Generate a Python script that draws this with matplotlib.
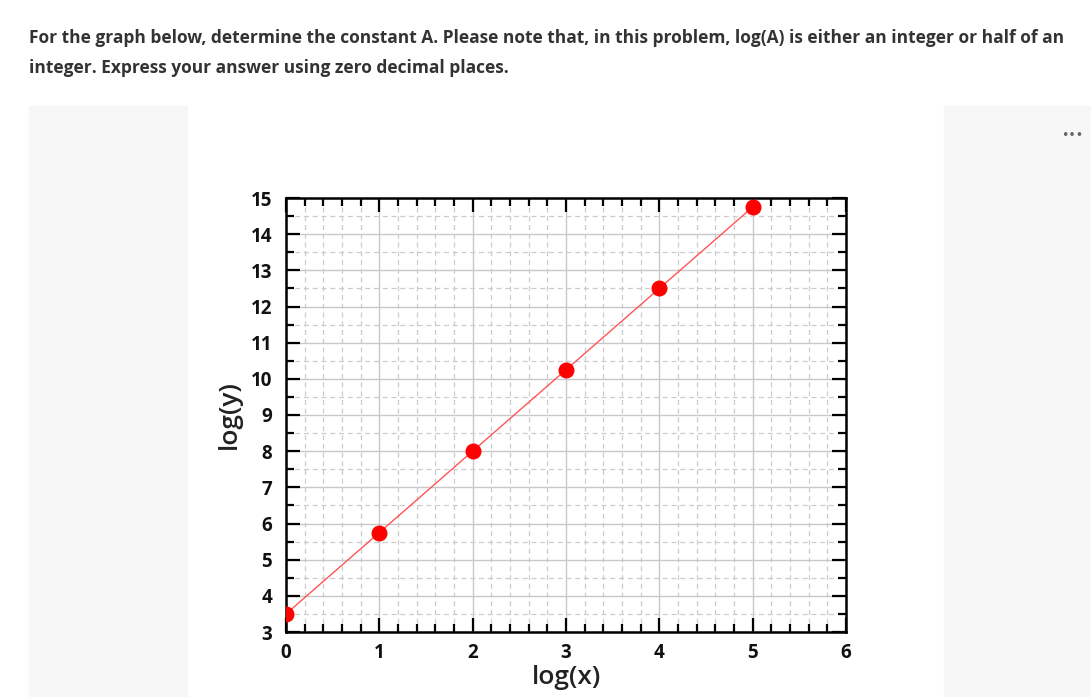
import numpy as np
import matplotlib
matplotlib.use("Agg")
import matplotlib.pyplot as plt
from matplotlib.patches import Rectangle
from matplotlib.ticker import MultipleLocator

# data
log_x = [0, 1, 2, 3, 4, 5]
log_y = [3.5, 5.75, 8.0, 10.25, 12.5, 14.75]

question = ["For the graph below, determine the constant A. Please note that, in this problem, log(A) is either an integer or half of an",
            "integer. Express your answer using zero decimal places."]

W, H = 1091, 697
fig = plt.figure(figsize=(W / 100, H / 100), dpi=100)

# page background: question text + grey side panels
for i, line in enumerate(question):
    fig.text(29 / W, 1 - (38 + 30 * i) / H, line, fontsize=12.5, fontweight="bold",
             family="Open Sans", color="#333333", va="center", ha="left")
fig.add_artist(Rectangle((29 / W, 0), (187 - 29) / W, 1 - 106 / H,
                         transform=fig.transFigure, color="#f7f7f7", zorder=0))
fig.add_artist(Rectangle((944 / W, 0), (W - 944) / W, 1 - 106 / H,
                         transform=fig.transFigure, color="#f7f7f7", zorder=0))
fig.text(1072 / W, 1 - 135 / H, "•••", fontsize=9, color="#666666", ha="center", va="center")

# the chart
ax = fig.add_axes([286 / W, 1 - 632 / H, (846 - 286) / W, (632 - 198) / H])
ax.plot(log_x, log_y, color="#ff5555", lw=1.0, zorder=2)
ax.plot(log_x, log_y, "o", color="red", ms=10.5, zorder=3)

ax.set_xlim(0, 6)
ax.set_ylim(3, 15)
ax.xaxis.set_major_locator(MultipleLocator(1))
ax.xaxis.set_minor_locator(MultipleLocator(0.2))
ax.yaxis.set_major_locator(MultipleLocator(1))
ax.yaxis.set_minor_locator(MultipleLocator(0.5))

ax.set_axisbelow(True)
ax.grid(which="major", color="#c8c8c8", lw=1.0, ls="-")
ax.grid(which="minor", color="#cccccc", lw=0.9, ls=(0, (4, 3)))

ax.tick_params(which="both", direction="in", top=True, right=True, width=1.6,
               color="black", labelsize=13.5)
ax.tick_params(axis="x", which="both", pad=8)
ax.tick_params(axis="y", which="both", pad=10)
ax.tick_params(which="major", length=10)
ax.tick_params(which="minor", length=6)
for lab in ax.get_xticklabels() + ax.get_yticklabels():
    lab.set_fontweight("bold")
    lab.set_family("Open Sans")
    lab.set_color("#111111")
for sp in ax.spines.values():
    sp.set_linewidth(1.8)

ax.set_xlabel("log(x)", fontsize=19, family="Open Sans", fontweight="semibold", color="#222222", labelpad=1)
ax.set_ylabel("log(y)", fontsize=19, family="Open Sans", fontweight="semibold", color="#222222", labelpad=6)

fig.savefig("out.png", dpi=100)
